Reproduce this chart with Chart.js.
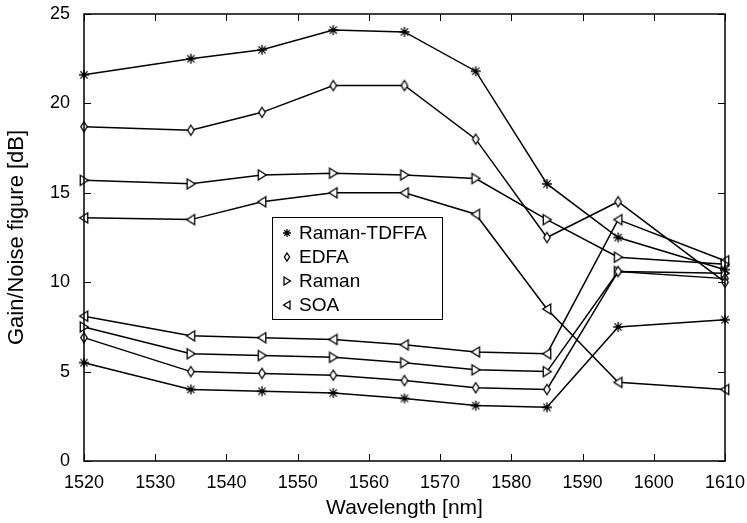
<!DOCTYPE html>
<html>
<head>
<meta charset="utf-8">
<script src="https://cdn.jsdelivr.net/npm/chart.js@4/dist/chart.umd.min.js"></script>
<style>
    html, body { margin: 0; padding: 0; background: #fff; }
    #chart { display: block; }
</style>
</head>
<body>
<canvas id="chart" width="747" height="523"></canvas>
<script>
// wavelengths [nm]
const wavelengths = [1520, 1535, 1545, 1555, 1565, 1575, 1585, 1595, 1610];

const amplifierNames = ["Raman-TDFFA", "EDFA", "Raman", "SOA"];

// gain (upper curves) and noise figure (lower curves), dB
const ramanTdffaGain = [21.6, 22.5, 23.0, 24.1, 24.0, 21.8, 15.5, 12.5, 10.7];
const ramanTdffaNF   = [5.5, 4.0, 3.9, 3.8, 3.5, 3.1, 3.0, 7.5, 7.9];
const edfaGain       = [18.7, 18.5, 19.5, 21.0, 21.0, 18.0, 12.5, 14.5, 10.0];
const edfaNF         = [6.9, 5.0, 4.9, 4.8, 4.5, 4.1, 4.0, 10.6, 10.2];
const ramanGain      = [15.7, 15.5, 16.0, 16.1, 16.0, 15.8, 13.5, 11.4, 11.0];
const ramanNF        = [7.5, 6.0, 5.9, 5.8, 5.5, 5.1, 5.0, 10.6, 10.5];
const soaGain        = [13.6, 13.5, 14.5, 15.0, 15.0, 13.8, 8.5, 4.4, 4.0];
const soaNF          = [8.1, 7.0, 6.9, 6.8, 6.5, 6.1, 6.0, 13.5, 11.2];

const yTicks = [0, 5, 10, 15, 20, 25];
const xTicks = [1520, 1530, 1540, 1550, 1560, 1570, 1580, 1590, 1600, 1610];

const FONT = "'Liberation Sans', Arial, sans-serif";

// small canvases used as point styles
const makeMarker = (kind, s) => {
    const size = s + 4;
    const c = document.createElement("canvas");
    c.width = size;
    c.height = size;
    const g = c.getContext("2d");
    const m = size / 2;
    const r = s / 2;
    g.strokeStyle = "#000";
    g.fillStyle = "#fff";
    g.lineWidth = 1.3;
    g.beginPath();
    if (kind === "star") {
        const d = r * 0.72;
        g.moveTo(m - r, m); g.lineTo(m + r, m);
        g.moveTo(m, m - r); g.lineTo(m, m + r);
        g.moveTo(m - d, m - d); g.lineTo(m + d, m + d);
        g.moveTo(m - d, m + d); g.lineTo(m + d, m - d);
        g.stroke();
        return c;
    }
    if (kind === "diamond") {
        g.moveTo(m, m - r);
        g.lineTo(m + r * 0.65, m);
        g.lineTo(m, m + r);
        g.lineTo(m - r * 0.65, m);
    } else if (kind === "right") {
        g.moveTo(m - r * 0.75, m - r);
        g.lineTo(m + r * 0.85, m);
        g.lineTo(m - r * 0.75, m + r);
    } else {
        g.moveTo(m + r * 0.75, m - r);
        g.lineTo(m - r * 0.85, m);
        g.lineTo(m + r * 0.75, m + r);
    }
    g.closePath();
    g.fill();
    g.stroke();
    return c;
};

const markerKinds = ["star", "diamond", "right", "left"];
const plotMarkers = markerKinds.map(k => makeMarker(k, 10));
const legendMarkers = markerKinds.map(k => makeMarker(k, 8));

const seriesValues = [
    [ramanTdffaGain, ramanTdffaNF],
    [edfaGain, edfaNF],
    [ramanGain, ramanNF],
    [soaGain, soaNF],
];

const datasets = [];
seriesValues.forEach((pair, i) => {
    pair.forEach((values, j) => {
        datasets.push({
            label: amplifierNames[i] + (j === 0 ? " gain" : " NF"),
            data: wavelengths.map((w, k) => ({ x: w, y: values[k] })),
            borderColor: "#000",
            borderWidth: 1.5,
            pointStyle: plotMarkers[i],
            pointRadius: 5,
            pointHoverRadius: 5,
            tension: 0,
            fill: false,
            clip: false,
        });
    });
});

// drop the label overhang so the plot area is set by layout padding only
const noOverhang = scale => {
    scale.paddingLeft = 0;
    scale.paddingRight = 0;
    scale.paddingTop = 0;
    scale.paddingBottom = 0;
};

// frame, inward ticks and the boxed legend
const framePlugin = {
    id: "frame",
    afterDatasetsDraw(chart) {
        const ctx = chart.ctx;
        const { left, right, top, bottom } = chart.chartArea;
        const xs = chart.scales.x;
        const ys = chart.scales.y;
        ctx.save();
        ctx.strokeStyle = "#000";
        ctx.lineWidth = 1.5;
        ctx.strokeRect(left, top, right - left, bottom - top);
        ctx.beginPath();
        xTicks.forEach(v => {
            const px = Math.round(xs.getPixelForValue(v)) + 0.5;
            ctx.moveTo(px, bottom); ctx.lineTo(px, bottom - 7);
            ctx.moveTo(px, top); ctx.lineTo(px, top + 7);
        });
        yTicks.forEach(v => {
            const py = Math.round(ys.getPixelForValue(v)) + 0.5;
            ctx.moveTo(left, py); ctx.lineTo(left + 7, py);
            ctx.moveTo(right, py); ctx.lineTo(right - 7, py);
        });
        ctx.lineWidth = 1;
        ctx.stroke();

        // legend box
        const bx = left + 188, by = top + 203, bw = 170, bh = 102;
        ctx.fillStyle = "#fff";
        ctx.fillRect(bx, by, bw, bh);
        ctx.lineWidth = 1;
        ctx.strokeRect(bx + 0.5, by + 0.5, bw, bh);
        ctx.font = "19px " + FONT;
        ctx.textBaseline = "middle";
        ctx.fillStyle = "#000";
        amplifierNames.forEach((name, i) => {
            const cy = by + 16 + i * 24;
            const mk = legendMarkers[i];
            ctx.drawImage(mk, bx + 15 - mk.width / 2, cy - mk.height / 2);
            ctx.fillText(name, bx + 27, cy + 1);
        });
        ctx.restore();
    },
};

new Chart(document.getElementById("chart"), {
    type: "line",
    data: { datasets: datasets },
    options: {
        responsive: false,
        animation: false,
        layout: { padding: { top: 14, right: 22, left: 0, bottom: 0 } },
        plugins: {
            legend: { display: false },
            tooltip: { enabled: false },
        },
        scales: {
            x: {
                type: "linear",
                min: 1520,
                max: 1610,
                afterBuildTicks: scale => { scale.ticks = xTicks.map(v => ({ value: v })); },
                afterFit: scale => { scale.height = 62; noOverhang(scale); },
                grid: { display: false },
                border: { display: false },
                ticks: {
                    color: "#000",
                    font: { family: FONT, size: 18 },
                    padding: 3,
                    maxRotation: 0,
                    callback: v => String(v),
                },
                title: {
                    display: true,
                    text: "Wavelength [nm]",
                    color: "#000",
                    font: { family: FONT, size: 21 },
                    padding: { top: 0, bottom: 2 },
                },
            },
            y: {
                min: 0,
                max: 25,
                afterBuildTicks: scale => { scale.ticks = yTicks.map(v => ({ value: v })); },
                afterFit: scale => { scale.width = 84; noOverhang(scale); },
                grid: { display: false },
                border: { display: false },
                ticks: {
                    color: "#000",
                    font: { family: FONT, size: 18 },
                    padding: 6,
                    callback: v => String(v),
                },
                title: {
                    display: true,
                    text: "Gain/Noise figure [dB]",
                    color: "#000",
                    font: { family: FONT, size: 22 },
                    padding: { top: 4, bottom: 0 },
                },
            },
        },
    },
    plugins: [framePlugin],
});
</script>
</body>
</html>
